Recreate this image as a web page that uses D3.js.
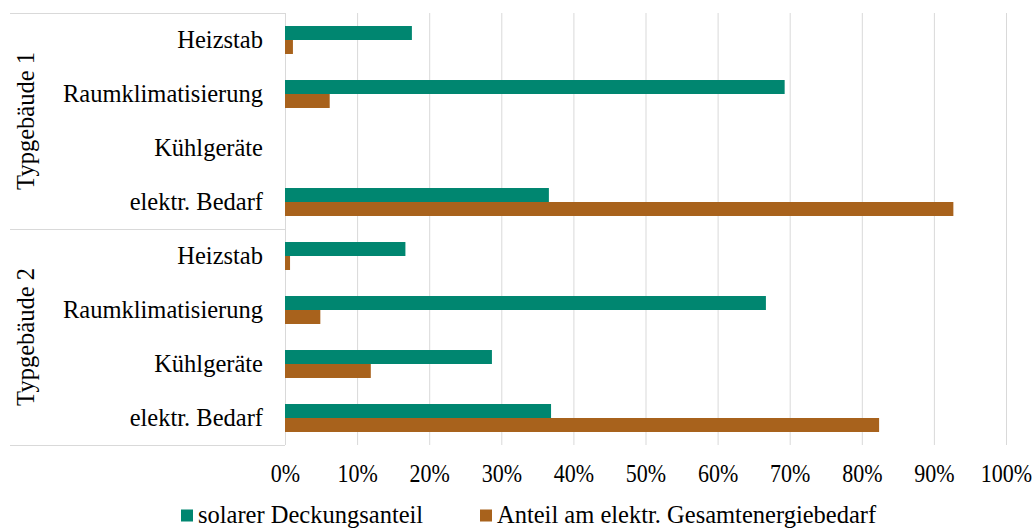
<!DOCTYPE html>
<html>
<head>
<meta charset="utf-8">
<script src="https://cdn.jsdelivr.net/npm/d3@7"></script>
<style>
  html, body { margin: 0; padding: 0; background: #fff; }
  svg { display: block; font-family: "Liberation Serif", "Times New Roman", serif; }
</style>
</head>
<body>
<svg id="chart" width="1034" height="530"></svg>
<script>
// ---- data ----
const groups = ["Typgebäude 1", "Typgebäude 2"];
const categories = ["Heizstab", "Raumklimatisierung", "Kühlgeräte", "elektr. Bedarf"];
const seriesNames = ["solarer Deckungsanteil", "Anteil am elektr. Gesamtenergiebedarf"];
const seriesColors = ["#008670", "#A8621C"];
const solar1 = [0.176, 0.693, null, 0.366];
const solar2 = [0.167, 0.667, 0.287, 0.369];
const anteil1 = [0.011, 0.062, null, 0.927];
const anteil2 = [0.007, 0.049, 0.119, 0.824];
const tickValues = [0, 0.1, 0.2, 0.3, 0.4, 0.5, 0.6, 0.7, 0.8, 0.9, 1.0];

(function () {
// ---- build rows ----
const solarByGroup = [solar1, solar2];
const anteilByGroup = [anteil1, anteil2];
const rows = [];
groups.forEach((g, gi) => {
  categories.forEach((c, ci) => {
    rows.push({ id: gi + "|" + ci, group: g, gi, cat: c,
      values: [solarByGroup[gi][ci], anteilByGroup[gi][ci]] });
  });
});

const svg = d3.select("#chart");
const pLeft = 285, pRight = 1006, pTop = 13, pBottom = 445, labelLeft = 10;
const gridColor = "#d9d9d9";

const x = d3.scaleLinear().domain([0, 1]).range([pLeft, pRight]);
const y = d3.scaleBand().domain(rows.map(r => r.id)).range([pTop, pBottom]).paddingInner(0).paddingOuter(0);
const ySeries = d3.scaleBand().domain([0, 1]).range([0, y.bandwidth()]).paddingInner(0).paddingOuter(0.93);

// gridlines via axis
const gridAxis = d3.axisBottom(x).tickValues(tickValues).tickSize(-(pBottom - pTop)).tickFormat("");
const grid = svg.append("g").attr("transform", `translate(0,${pBottom})`).call(gridAxis);
grid.select(".domain").remove();
grid.selectAll(".tick line").attr("stroke", gridColor).attr("stroke-width", 1);

// category-area lines (multi-level axis)
const groupBounds = [pTop].concat(groups.map((g, gi) => y(gi + "|" + (categories.length - 1)) + y.bandwidth()));
svg.append("g").selectAll("line").data(groupBounds).join("line")
  .attr("x1", labelLeft).attr("x2", pLeft)
  .attr("y1", d => Math.round(d) + 0.5).attr("y2", d => Math.round(d) + 0.5)
  .attr("stroke", gridColor).attr("stroke-width", 1);

// bars
const rowG = svg.append("g").selectAll("g").data(rows).join("g")
  .attr("transform", d => `translate(0,${y(d.id)})`);
rowG.selectAll("rect").data(d => d.values.map((v, i) => ({ v, i })).filter(e => e.v != null))
  .join("rect")
  .attr("x", x(0))
  .attr("y", e => ySeries(e.i))
  .attr("width", e => x(e.v) - x(0))
  .attr("height", ySeries.bandwidth())
  .attr("fill", e => seriesColors[e.i]);

// category labels
svg.append("g").selectAll("text").data(rows).join("text")
  .attr("x", 263)
  .attr("y", d => y(d.id) + y.bandwidth() / 2 + 8.3)
  .attr("text-anchor", "end")
  .attr("font-size", "24.5px")
  .attr("fill", "#000")
  .text(d => d.cat);

// group labels
svg.append("g").selectAll("text").data(groups).join("text")
  .attr("transform", (g, gi) => {
    const c = (groupBounds[gi] + groupBounds[gi + 1]) / 2;
    return `translate(33.5,${c}) rotate(-90)`;
  })
  .attr("text-anchor", "middle")
  .attr("font-size", "24.5px")
  .attr("fill", "#000")
  .text(d => d);

// x axis tick labels
const xAxis = d3.axisBottom(x).tickValues(tickValues).tickSize(0).tickPadding(0)
  .tickFormat(d3.format(".0%"));
const ax = svg.append("g").attr("transform", `translate(0,482)`).call(xAxis);
ax.select(".domain").remove();
ax.selectAll(".tick text")
  .attr("y", 0).attr("dy", 0)
  .attr("font-family", "Liberation Serif")
  .attr("font-size", "25px")
  .attr("fill", "#000")
  .attr("transform", "scale(0.88,1)");

// legend
const legendItems = [
  { name: seriesNames[0], color: seriesColors[0], x: 181 },
  { name: seriesNames[1], color: seriesColors[1], x: 480 }
];
const lg = svg.append("g").selectAll("g").data(legendItems).join("g")
  .attr("transform", d => `translate(${d.x},0)`);
lg.append("rect").attr("x", 0).attr("y", 509.5).attr("width", 12).attr("height", 12).attr("fill", d => d.color);
lg.append("text").attr("x", 17).attr("y", 523).attr("font-size", "24.5px").attr("fill", "#000").text(d => d.name);
})();
</script>
</body>
</html>
